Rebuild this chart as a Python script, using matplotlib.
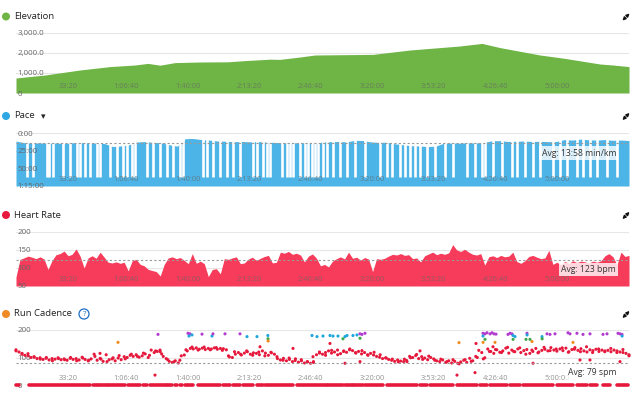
import numpy as np
import matplotlib
matplotlib.use('Agg')
import matplotlib.pyplot as plt
from matplotlib.colors import ListedColormap, BoundaryNorm
from matplotlib.patches import Circle, FancyArrowPatch

plt.rcParams['font.family'] = ['Open Sans', 'DejaVu Sans']

# activity length in seconds (5:32:15)
duration = 19935

xticks = [2000, 4000, 6000, 8000, 10000, 12000, 14000, 16000, 18000]
xlabels = ['33:20', '1:06:40', '1:40:00', '2:13:20', '2:46:40',
           '3:20:00', '3:53:20', '4:26:40', '5:00:00']

# elevation profile (s, m)
elev_t = [0, 943, 2081, 3057, 3870, 4293, 4683, 5171, 5984, 6894,
          7447, 8260, 8585, 9236, 9723, 11610, 12813, 13788, 14439, 15154,
          15740, 17040, 17853, 18992, 19414, 19935]
elev = [750, 900, 1150, 1320, 1400, 1480, 1390, 1520, 1550, 1560,
        1620, 1690, 1680, 1800, 1900, 1930, 2150, 2270, 2350, 2480,
        2270, 1900, 1730, 1450, 1400, 1320]

# pace in seconds per km, sampled evenly across the activity
pace = [690, 820, 860, 840, 870, 850, 900, 830, 810, 840,
        860, 900, 1150, 1100, 1000, 760, 730, 800, 830, 1000,
        1120, 480, 470, 560, 600, 680, 700, 740, 720, 750,
        730, 760, 800, 830, 810, 850, 800, 900, 760, 740,
        720, 760, 620, 640, 760, 800, 780, 920, 1000, 1080,
        1100, 1150, 1120, 880, 850, 860, 830, 850, 800, 660,
        650, 720, 700, 680, 720, 700, 740, 720, 560, 600,
        520, 580, 600, 560, 620, 600, 640]
# moments where the pace dropped off (stops), seconds
pace_stops = [358, 553, 1008, 1073, 1203, 1528, 1756, 1984, 2081, 2244,
              2406, 2634, 2732, 3057, 3285, 3480, 3610, 3772, 3870, 4260,
              4455, 4683, 4911, 5106, 5333, 5431, 6081, 6211, 6406, 6634,
              6862, 7057, 7284, 7707, 7837, 8032, 8162, 8260, 8650, 8813,
              8910, 9008, 9236, 9398, 9496, 9626, 9723, 9821, 9984, 10114,
              10309, 10537, 10764, 11024, 11349, 11837, 12065, 12228, 12488, 12650,
              12813, 12975, 13138, 13365, 13626, 13951, 14211, 14667, 14927, 15154,
              15252, 15512, 15805, 16130, 16293, 16553, 16813, 17040, 17463, 17691,
              17918, 18243, 18439, 18666, 18894, 19219, 19544]
stop_pace = 3700
avg_pace = 838

# heart rate, bpm, sampled evenly
hr = [75, 124, 128, 133, 130, 126, 131, 125, 96, 121,
      137, 140, 147, 134, 138, 153, 133, 100, 128, 134,
      127, 144, 130, 116, 114, 117, 113, 116, 92, 120,
      124, 110, 106, 96, 93, 90, 78, 110, 128, 131,
      126, 129, 121, 112, 140, 113, 119, 112, 76, 96,
      98, 84, 126, 124, 128, 131, 112, 114, 125, 130,
      121, 127, 132, 135, 114, 116, 144, 141, 146, 138,
      141, 136, 117, 133, 139, 127, 106, 110, 103, 119,
      126, 131, 125, 144, 127, 130, 122, 129, 125, 90,
      126, 124, 127, 133, 138, 136, 140, 135, 137, 126,
      128, 117, 134, 139, 144, 137, 141, 138, 142, 165,
      150, 146, 152, 144, 138, 136, 140, 108, 131, 134,
      129, 135, 131, 133, 144, 118, 113, 120, 132, 135,
      130, 126, 128, 149, 110, 116, 109, 118, 113, 120,
      115, 119, 117, 114, 119, 116, 120, 134, 140, 131,
      109, 144, 132, 135]
avg_hr = 123

# run cadence, spm, sampled evenly
cad = [124, 120, 112, 108, 114, 100, 103, 96, 99, 93, 97, 91, 96, 94, 99, 92, 95, 90, 97, 93,
       96, 91, 101, 93, 88, 95, 112, 90, 97, 86, 110, 92, 95, 88, 98, 92, 103, 100, 108, 104,
       110, 101, 106, 113, 100, 127, 118, 122, 121, 104, 96, 86, 82, 88, 80, 106, 109, 124, 133, 131,
       135, 130, 134, 129, 133, 131, 135, 130, 133, 132, 128, 102, 100, 112, 118, 109, 116, 121, 112, 117,
       115, 110, 124, 116, 108, 117, 112, 96, 91, 97, 88, 93, 85, 95, 83, 88, 80, 84, 79, 85,
       110, 116, 112, 118, 124, 116, 120, 127, 114, 122, 119, 128, 125, 118, 122, 113, 118, 110, 115, 109,
       104, 101, 96, 99, 93, 90, 86, 91, 87, 85, 89, 104, 100, 107, 96, 103, 98, 92, 100, 95,
       88, 85, 91, 82, 88, 80, 86, 79, 84, 90, 82, 97, 88, 104, 126, 118, 99, 131, 122, 115,
       128, 119, 124, 134, 116, 127, 121, 131, 118, 125, 129, 115, 122, 133, 120, 126, 130, 124, 136, 127,
       123, 131, 125, 134, 121, 129, 136, 126, 132, 124, 120, 128, 125, 130, 122, 127, 124, 126, 121, 127,
       124, 120, 118, 115, 110]
# second cadence track (interleaved readings)
cad2 = [128, 115, 106, 101, 94, 100, 88, 96, 92, 100,
        88, 98, 90, 104, 94, 85, 99, 107, 95, 112,
        104, 116, 108, 124, 113, 92, 84, 90, 128, 138,
        127, 138, 128, 136, 126, 106, 121, 112, 124, 108,
        120, 106, 119, 103, 90, 98, 89, 92, 85, 82,
        120, 108, 126, 110, 124, 131, 116, 125, 108, 119,
        110, 98, 94, 84, 94, 99, 111, 93, 105, 90,
        94, 85, 92, 77, 92, 86, 100, 95, 122, 129,
        118, 137, 122, 135, 112, 127, 117, 137, 125, 131,
        135, 119, 130, 121, 139, 118, 131, 121, 133, 118,
        129, 106]
# single readings away from the main band (s, spm)
cad_extra_t = [3317, 4618, 5593, 5658, 5626, 5724, 6049, 6374, 6406, 6797,
               7284, 7512, 7837, 8190, 8195, 8200, 9626, 9789, 9984, 10211,
               10309, 10471, 10634, 10699, 10764, 10959, 11089, 11187, 11252, 11349,
               11187, 14406, 15187, 15252, 15317, 15415, 15480, 15545, 15610, 15187,
               15252, 15190, 15577, 16000, 16065, 16130, 16162, 16228, 16165, 16618,
               16620, 16585, 16715, 16780, 17106, 17110, 17268, 17366, 17528, 17951,
               18016, 18243, 18114, 18439, 18666, 19089, 19219, 19577, 19642, 19707,
               19710,
               4520, 4683, 7935, 9008, 9658, 2732, 10211, 14341, 14927, 14960,
               15512, 16813, 18341, 18666, 19642, 11187, 10699, 12715, 13138]
cad_extra = [155, 184, 188, 186, 178, 182, 185, 178, 186, 186,
             186, 176, 176, 180, 168, 160, 180, 176, 178, 180,
             178, 178, 168, 176, 180, 180, 182, 186, 184, 188,
             170, 154, 188, 186, 190, 186, 190, 186, 185, 178,
             166, 155, 155, 184, 188, 186, 180, 176, 166, 188,
             182, 166, 166, 158, 176, 168, 186, 184, 186, 190,
             186, 188, 155, 184, 186, 184, 186, 188, 186, 184,
             178,
             36, 127, 139, 133, 103, 115, 151, 36, 45, 151,
             139, 79, 91, 91, 85, 85, 79, 85, 124]
# stretches with zero cadence (start s, end s)
zero_start = [0, 433, 2514, 2676, 3002, 3652, 4140, 4358, 4953, 5171, 5333, 5496,
              5928, 6742, 7067, 7395, 7828, 8097, 9128, 10156, 10699, 10969, 11349,
              12055, 13138, 13463, 14332, 15089, 15415, 16065, 16498, 17583, 18234,
              18666, 19099, 19535]
zero_end = [107, 2406, 2624, 2950, 3545, 4032, 4250, 4901, 5063, 5226, 5389, 5766,
            6634, 6959, 7284, 7717, 8042, 9018, 10104, 10644, 10917, 11294, 11945,
            13031, 13356, 14221, 14982, 15307, 15958, 16390, 17473, 18124, 18559,
            18884, 19317, 19912]
avg_cad = 79

W, H = 639, 397
fig = plt.figure(figsize=(W / 100, H / 100), dpi=100)


def panel(top, bottom):
    return fig.add_axes([16 / W, 1 - bottom / H, 613 / W, (bottom - top) / H])


def style(ax, yticks, ylabels):
    ax.set_xlim(0, duration)
    for s in ax.spines.values():
        s.set_visible(False)
    for v in yticks:
        ax.axhline(v, color='#e6e6e6', lw=0.8, zorder=0)
    ax.set_xticks(xticks)
    ax.set_xticklabels(xlabels)
    ax.tick_params(axis='x', length=0, pad=-7.5, labelsize=5.4, labelcolor='#666666')
    for lab in ax.get_xticklabels():
        lab.set_ha('right')
        lab.set_alpha(0.7)
    ax.set_yticks(yticks)
    ax.set_yticklabels(ylabels)
    ax.tick_params(axis='y', length=0, pad=-1, labelsize=5.7, labelcolor='#666666')
    for lab in ax.get_yticklabels():
        lab.set_ha('left')
    ax.patch.set_alpha(0)


def expand_icon(y):
    cx, cy = 626 / 100, (H - y) / 100
    for dx, dy in [(1, 1), (-1, -1)]:
        fig.add_artist(FancyArrowPatch((cx + 0.008 * dx, cy + 0.008 * dy),
                                       (cx + 0.036 * dx, cy + 0.036 * dy),
                                       transform=fig.dpi_scale_trans, arrowstyle='-|>',
                                       mutation_scale=4.5, lw=1.0, color='#111111',
                                       shrinkA=0, shrinkB=0))


def title(y, text, color):
    fig.add_artist(Circle((6 / 100, (H - y) / 100), 3.3 / 100, transform=fig.dpi_scale_trans,
                          color=color))
    fig.text(14 / W, 1 - y / H, text, va='center', ha='left', fontsize=6.8, color='#222222')
    expand_icon(y + 0.5)


def avg_label(ax, yfrac, text, fc):
    ax.text(0.979, yfrac, text, transform=ax.transAxes, ha='right', va='center', fontsize=6.2,
            color='#333333', zorder=6,
            bbox=dict(boxstyle='square,pad=0.25', fc=fc, ec='none', alpha=0.8))


# Elevation
ax = panel(33, 93)
ax.fill_between(elev_t, elev, 0, color='#6eb545', lw=0, zorder=1)
ax.set_ylim(0, 3000)
style(ax, [0, 1000, 2000, 3000], ['0', '1,000.0', '2,000.0', '3,000.0'])
title(16.5, 'Elevation', '#6eb545')

# Pace
ax = panel(133, 186)
pt = np.linspace(0, duration, len(pace))
ax.fill_between(pt, pace, 4500, color='#4cb4e7', lw=0, zorder=1)
ax.vlines(pace_stops, 400, stop_pace, color='white', lw=1.9, zorder=1.5)
ax.axhline(avg_pace, color='#9a9a9a', lw=0.8, ls=(0, (2, 2)), zorder=3)
ax.set_ylim(4500, 0)
style(ax, [0, 1500, 3000, 4500], ['0:00', '25:00', '50:00', '1:15:00'])
avg_label(ax, 0.62, 'Avg: 13:58 min/km', 'white')
title(116, 'Pace', '#2ea8e2')
fig.text(41 / W, 1 - 116.5 / H, '\u25BE', va='center', ha='left', fontsize=6.5,
         color='#222222', family=['DejaVu Sans'])

# Heart rate
ax = panel(232, 286)
ht = np.linspace(0, duration, len(hr))
ax.fill_between(ht, hr, 50, color='#f73b5a', lw=0, zorder=1)
ax.axhline(avg_hr, color='#9a9a9a', lw=0.8, ls=(0, (2, 2)), zorder=3)
ax.set_ylim(50, 200)
style(ax, [50, 100, 150, 200], ['50', '100', '150', '200'])
avg_label(ax, 0.30, 'Avg: 123 bpm', 'white')
title(215, 'Heart Rate', '#e8193f')

# Run cadence
ax = panel(330, 385)
zone_cmap = ListedColormap(['#e6193c', '#f08c1e', '#3da84a', '#1fa6dc', '#b23cd0'])
zone_norm = BoundaryNorm([0, 153, 164, 174, 183, 300], zone_cmap.N)
ct = np.linspace(0, duration, len(cad))
ct2 = np.linspace(0, duration, len(cad2))
ax.axhline(0, color='#dfe5ec', lw=1.0, zorder=0)
zl = ax.hlines([0] * len(zero_start), zero_start, zero_end, color='#e6193c', lw=2.6,
               zorder=2, clip_on=False)
zl.set_capstyle('round')
for tt, vv in [(ct, cad), (ct2, cad2), (cad_extra_t, cad_extra)]:
    ax.scatter(tt, vv, c=vv, cmap=zone_cmap, norm=zone_norm, s=5, lw=0, zorder=2,
               clip_on=False)
ax.axhline(avg_cad, color='#9a9a9a', lw=0.8, ls=(0, (2, 2)), zorder=3)
ax.set_ylim(0, 200)
style(ax, [0, 100, 200], ['0', '100', '200'])
avg_label(ax, 0.22, 'Avg: 79 spm', 'white')
title(314, 'Run Cadence', '#f08a24')
fig.text(84 / W, 1 - 314 / H, '?', va='center', ha='center', fontsize=5.5, color='#1f6fc4',
         bbox=dict(boxstyle='circle,pad=0.2', fc='white', ec='#1f6fc4', lw=0.9))

fig.savefig('out.png', dpi=100)
